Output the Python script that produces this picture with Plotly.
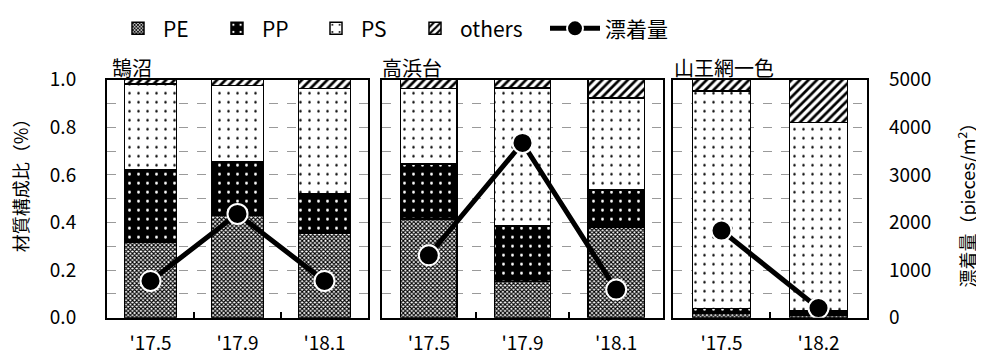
import plotly.graph_objects as go

# ---------------- data ----------------
panel_titles = ["鵠沼", "高浜台", "山王網一色"]
cats_p1 = ["'17.5", "'17.9", "'18.1"]
cats_p2 = ["'17.5", "'17.9", "'18.1"]
cats_p3 = ["'17.5", "'18.2"]

pe_p1 = [0.317, 0.429, 0.356]
pp_p1 = [0.306, 0.228, 0.165]
ps_p1 = [0.359, 0.319, 0.442]
ot_p1 = [0.018, 0.024, 0.037]

pe_p2 = [0.415, 0.152, 0.381]
pp_p2 = [0.231, 0.233, 0.156]
ps_p2 = [0.317, 0.581, 0.385]
ot_p2 = [0.037, 0.034, 0.078]

pe_p3 = [0.017, 0.010]
pp_p3 = [0.021, 0.020]
ps_p3 = [0.914, 0.789]
ot_p3 = [0.048, 0.181]

amt_p1 = [770, 2180, 770]
amt_p2 = [1310, 3670, 590]
amt_p3 = [1830, 200]

y_ticks_left = [0.0, 0.2, 0.4, 0.6, 0.8, 1.0]
y_ticks_right = [0, 1000, 2000, 3000, 4000, 5000]

# ---------------- layout helpers ----------------
OFF = 8  # page body margin
W, H = 984 - OFF, 356 - OFF
def px(x):
    return (x - OFF) / W
def py(y):
    return 1 - (y - OFF) / H

FONT = "Noto Sans CJK JP"
panel_px = [(107, 368), (382, 663), (673, 867)]
ydom = [py(316.5), py(71.5)]

patterns = {
    "PE": dict(shape="x", size=3, solidity=0.6, fgcolor="black", bgcolor="white", fillmode="replace"),
    "PP": dict(shape=".", size=9, solidity=0.08, fgcolor="white", bgcolor="black", fillmode="replace"),
    "PS": dict(shape=".", size=9, solidity=0.06, fgcolor="black", bgcolor="white", fillmode="replace"),
    "others": dict(shape="/", size=6, solidity=0.45, fgcolor="black", bgcolor="white", fillmode="replace"),
}
bar_bg = {"PE": "white", "PP": "black", "PS": "white", "others": "white"}
legend_of = {"PE": "legend", "PP": "legend", "PS": "legend", "others": "legend3"}

panels = [
    (cats_p1, [pe_p1, pp_p1, ps_p1, ot_p1], amt_p1),
    (cats_p2, [pe_p2, pp_p2, ps_p2, ot_p2], amt_p2),
    (cats_p3, [pe_p3, pp_p3, ps_p3, ot_p3], amt_p3),
]
names = ["PE", "PP", "PS", "others"]

LEG_Y = py(19)
leg_common = dict(orientation="h", xanchor="left", yanchor="middle", y=LEG_Y,
                  font=dict(size=21, family=FONT), bgcolor="rgba(0,0,0,0)")

fig = go.Figure()
layout = dict(
    width=W, height=H,
    margin=dict(l=0, r=0, t=0, b=0),
    paper_bgcolor="white", plot_bgcolor="white",
    barmode="stack",
    font=dict(family=FONT, size=18, color="black"),
    showlegend=True,
    legend=dict(x=px(113), itemwidth=40, entrywidth=44, tracegroupgap=0,
                traceorder="normal", **leg_common),
    legend3=dict(x=px(410), itemwidth=40, **leg_common),
    legend2=dict(x=px(545), itemwidth=50, **leg_common),
)

for i, (cats, series, amt) in enumerate(panels):
    n = i + 1
    xa = "x" if n == 1 else f"x{n}"
    ya = "y" if n == 1 else f"y{n}"
    ya2 = f"y{n+3}"
    xpos = list(range(len(cats)))
    for name, vals in zip(names, series):
        fig.add_trace(go.Bar(
            x=xpos, y=vals, name=name, width=0.6,
            marker=dict(color=bar_bg[name], pattern=patterns[name],
                        line=dict(color="black", width=1.5)),
            xaxis=xa, yaxis=ya, showlegend=(n == 1), legendgroup=name,
            legend=legend_of[name],
        ))
    fig.add_trace(go.Scatter(
        x=xpos, y=amt, name="漂着量", mode="lines+markers",
        line=dict(color="black", width=5),
        marker=dict(size=20, color="black", line=dict(color="white", width=2)),
        xaxis=xa, yaxis=ya2, showlegend=(n == 1), legendgroup="amt", legend="legend2",
    ))
    x0, x1 = panel_px[i]
    layout[f"xaxis{'' if n == 1 else n}"] = dict(
        domain=[px(x0), px(x1)], anchor=ya, range=[-0.5, len(cats) - 0.5],
        tickmode="array", tickvals=xpos, ticktext=cats, ticks="",
        showline=True, linecolor="black", linewidth=2, mirror=True,
        showgrid=False, zeroline=False, automargin=False,
        tickfont=dict(size=19), ticklabelstandoff=8,
        minor=dict(tickmode="array", tickvals=[k + 0.5 for k in xpos[:-1]],
                   ticks="inside", ticklen=6, tickwidth=2, tickcolor="black", showgrid=False),
    )
    layout[f"yaxis{'' if n == 1 else n}"] = dict(
        domain=ydom, anchor=xa, range=[0, 1],
        tickmode="array", tickvals=y_ticks_left, tickformat=".1f",
        showticklabels=(n == 1), ticks="",
        showline=True, linecolor="black", linewidth=2, mirror=True,
        showgrid=True, gridcolor="#9a9a9a", griddash="dash", gridwidth=1,
        minor=dict(dtick=0.1, showgrid=True, gridcolor="#9a9a9a", griddash="dash", gridwidth=1),
        zeroline=False, automargin=False, tickfont=dict(size=19), ticklabelstandoff=25,
    )
    layout[f"yaxis{n+3}"] = dict(
        overlaying=ya, anchor=xa, side="right", range=[0, 5000],
        tickmode="array", tickvals=y_ticks_right,
        showticklabels=(n == 3), ticks="", showgrid=False, zeroline=False,
        showline=False, automargin=False, tickfont=dict(size=19), ticklabelstandoff=21,
    )

fig.update_layout(**layout)

ann = []
title_px = [110, 380, 672]
for t, xp in zip(panel_titles, title_px):
    ann.append(dict(text=t, x=px(xp), y=py(59), xref="paper", yref="paper",
                    xanchor="left", yanchor="middle", showarrow=False, font=dict(size=20)))
ann.append(dict(text="材質構成比（%）", x=px(20), y=py(176), xref="paper", yref="paper",
                textangle=-90, xanchor="center", yanchor="middle", showarrow=False, font=dict(size=18)))
ann.append(dict(text="漂着量（pieces/m<sup>2</sup>）", x=px(966), y=py(196), xref="paper", yref="paper",
                textangle=-90, xanchor="center", yanchor="middle", showarrow=False, font=dict(size=18)))
fig.update_layout(annotations=ann)

fig.write_html("out.html")
